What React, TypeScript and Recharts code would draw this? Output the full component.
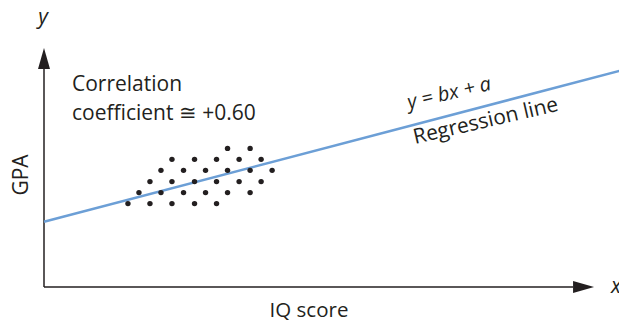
import {
  ComposedChart,
  Line,
  Scatter,
  XAxis,
  YAxis,
  ReferenceLine,
  Customized,
} from "recharts";

// regression line end points (x = IQ score, y = GPA, arbitrary units)
const regressionLine = [
  { x: 0, y: 27.3 },
  { x: 100, y: 90.8 },
];

// scatter cloud, row by row
const dots = [
  { x: 31.7, y: 58.0 },
  { x: 35.6, y: 58.0 },
  { x: 22.1, y: 53.4 },
  { x: 26.0, y: 53.4 },
  { x: 29.8, y: 53.4 },
  { x: 33.7, y: 53.4 },
  { x: 37.5, y: 53.4 },
  { x: 20.2, y: 48.8 },
  { x: 24.1, y: 48.8 },
  { x: 27.9, y: 48.8 },
  { x: 31.7, y: 48.8 },
  { x: 35.6, y: 48.8 },
  { x: 39.4, y: 48.8 },
  { x: 18.3, y: 44.1 },
  { x: 22.1, y: 44.1 },
  { x: 26.0, y: 44.1 },
  { x: 29.8, y: 44.1 },
  { x: 33.7, y: 44.1 },
  { x: 37.5, y: 44.1 },
  { x: 16.4, y: 39.5 },
  { x: 20.2, y: 39.5 },
  { x: 24.1, y: 39.5 },
  { x: 27.9, y: 39.5 },
  { x: 31.7, y: 39.5 },
  { x: 35.6, y: 39.5 },
  { x: 14.5, y: 34.9 },
  { x: 18.3, y: 34.9 },
  { x: 22.1, y: 34.9 },
  { x: 26.0, y: 34.9 },
  { x: 29.8, y: 34.9 },
];

const xAxisEnd = 95;
const yAxisEnd = 100;

const INK = "#231f20";
const FONT = "'Open Sans', 'Noto Sans', sans-serif";

const ArrowLine = (props: any) => {
  const { x1, y1, x2, y2 } = props;
  const len = 21;
  const half = 6;
  const ang = Math.atan2(y2 - y1, x2 - x1);
  const bx = x2 - len * Math.cos(ang);
  const by = y2 - len * Math.sin(ang);
  const px = -Math.sin(ang) * half;
  const py = Math.cos(ang) * half;
  return (
    <g>
      <line x1={x1} y1={y1} x2={bx} y2={by} stroke={INK} strokeWidth={1.5} />
      <polygon
        points={`${x2},${y2} ${bx + px},${by + py} ${bx - px},${by - py}`}
        fill={INK}
      />
    </g>
  );
};

const Labels = () => (
  <g fontFamily={FONT} fill={INK}>
    <text x={35} y={16} textAnchor="middle" fontStyle="italic" fontSize={21}>
      y
    </text>
    <text x={603} y={285} fontStyle="italic" fontSize={21}>
      x
    </text>
    <text
      x={20}
      y={167}
      textAnchor="middle"
      fontSize={21}
      transform="rotate(-90, 20, 167)"
    >
      GPA
    </text>
    <text x={301} y={309} textAnchor="middle" fontSize={20.5}>
      IQ score
    </text>
    <text x={64} y={83} fontSize={21}>
      Correlation
    </text>
    <text x={64} y={112} fontSize={21}>
      coefficient ≅ +0.60
    </text>
    <text
      x={401}
      y={101}
      fontStyle="italic"
      fontSize={20}
      transform="rotate(-13, 401, 101)"
    >
      y = bx + a
    </text>
    <text x={407} y={136} fontSize={21} transform="rotate(-13, 407, 136)">
      Regression line
    </text>
  </g>
);

export default function App() {
  return (
    <ComposedChart
      width={619}
      height={316}
      data={regressionLine}
      margin={{ top: 40, right: 4, bottom: 37, left: 36 }}
      style={{ overflow: "visible" }}
    >
      <XAxis dataKey="x" type="number" domain={[0, 100]} hide />
      <YAxis dataKey="y" type="number" domain={[0, 100]} hide />
      <ReferenceLine
        segment={[
          { x: 0, y: 0 },
          { x: xAxisEnd, y: 0 },
        ]}
        ifOverflow="visible"
        shape={ArrowLine}
      />
      <ReferenceLine
        segment={[
          { x: 0, y: 0 },
          { x: 0, y: yAxisEnd },
        ]}
        ifOverflow="visible"
        shape={ArrowLine}
      />
      <Line
        dataKey="y"
        type="linear"
        stroke="#6c9fd6"
        strokeWidth={2.5}
        dot={false}
        isAnimationActive={false}
      />
      <Scatter
        data={dots}
        dataKey="y"
        fill={INK}
        isAnimationActive={false}
        shape={(p: any) => <circle cx={p.cx} cy={p.cy} r={2.7} fill={INK} />}
      />
      <Customized component={Labels} />
    </ComposedChart>
  );
}
